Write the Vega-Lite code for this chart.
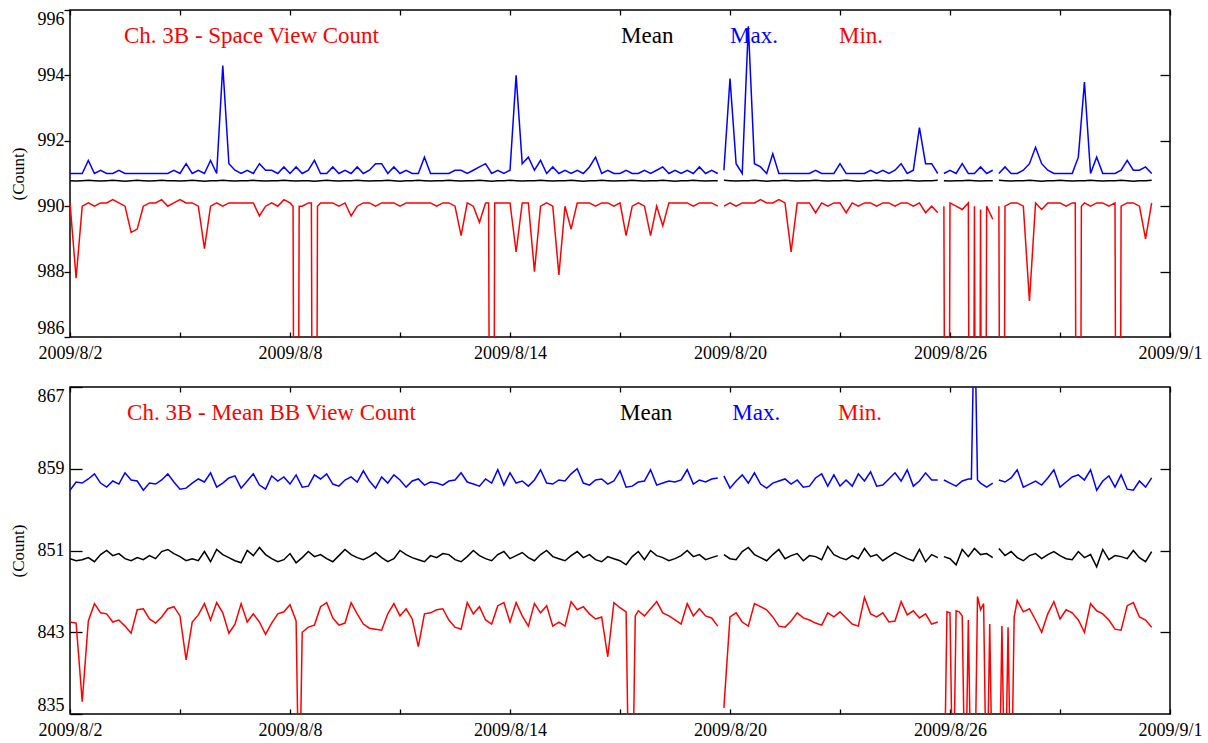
{
"$schema": "https://vega.github.io/schema/vega-lite/v6.json",
"background": "white",
"padding": {"left": 8, "top": 8, "right": 5, "bottom": 0},
"spacing": 22,
"config": {
  "view": {"stroke": "#000", "strokeWidth": 1.5},
  "axis": {"domain": false, "grid": false, "tickColor": "#000", "tickWidth": 1.3, "labelColor": "#000", "labelFont": "Liberation Serif", "labelFontSize": 18, "titleFont": "Liberation Serif", "titleFontSize": 17, "titleFontWeight": "normal", "titleColor": "#000"},
  "text": {"font": "Liberation Serif"}
},
"datasets": {
"d": [
{"t":"2009-08-02T00:00","g":1,"smax":991,"smean":990.78,"smin":990.1,"bmax":856.9,"bmean":850.2,"bmin":844},
{"t":"2009-08-02T04:00","g":1,"smax":991,"smean":990.77,"smin":987.8,"bmax":857.7,"bmean":850,"bmin":843.9},
{"t":"2009-08-02T08:00","g":1,"smax":991,"smean":990.78,"smin":990,"bmax":857.6,"bmean":850.1,"bmin":836.2},
{"t":"2009-08-02T12:00","g":1,"smax":991.4,"smean":990.79,"smin":990.1,"bmax":858,"bmean":850.3,"bmin":844.1},
{"t":"2009-08-02T16:00","g":1,"smax":991,"smean":990.78,"smin":990,"bmax":858.5,"bmean":849.9,"bmin":845.8},
{"t":"2009-08-02T20:00","g":1,"smax":991.1,"smean":990.77,"smin":990.1,"bmax":857.6,"bmean":850.6,"bmin":844.9},
{"t":"2009-08-03T00:00","g":1,"smax":991,"smean":990.78,"smin":990.1,"bmax":857.2,"bmean":851,"bmin":844.8},
{"t":"2009-08-03T04:00","g":1,"smax":991,"smean":990.79,"smin":990.2,"bmax":857.8,"bmean":850.5,"bmin":844},
{"t":"2009-08-03T08:00","g":1,"smax":991.1,"smean":990.78,"smin":990.1,"bmax":857.5,"bmean":850.7,"bmin":844.2},
{"t":"2009-08-03T12:00","g":1,"smax":991,"smean":990.76,"smin":990,"bmax":858.6,"bmean":850.2,"bmin":843.6},
{"t":"2009-08-03T16:00","g":1,"smax":991,"smean":990.78,"smin":989.2,"bmax":857.9,"bmean":850,"bmin":842.9},
{"t":"2009-08-03T20:00","g":1,"smax":991,"smean":990.79,"smin":989.3,"bmax":857.8,"bmean":850.3,"bmin":845.2},
{"t":"2009-08-04T00:00","g":1,"smax":991,"smean":990.78,"smin":990,"bmax":856.9,"bmean":850.1,"bmin":845.3},
{"t":"2009-08-04T04:00","g":1,"smax":991,"smean":990.77,"smin":990.1,"bmax":857.6,"bmean":850.5,"bmin":844.3},
{"t":"2009-08-04T08:00","g":1,"smax":991,"smean":990.78,"smin":990.1,"bmax":857.5,"bmean":850.2,"bmin":843.9},
{"t":"2009-08-04T12:00","g":1,"smax":991,"smean":990.79,"smin":990.2,"bmax":857.9,"bmean":850.9,"bmin":844.5},
{"t":"2009-08-04T16:00","g":1,"smax":991,"smean":990.78,"smin":990,"bmax":858.5,"bmean":851.1,"bmin":845.3},
{"t":"2009-08-04T20:00","g":1,"smax":991.1,"smean":990.78,"smin":990.1,"bmax":857.7,"bmean":850.7,"bmin":845.5},
{"t":"2009-08-05T00:00","g":1,"smax":991,"smean":990.77,"smin":990.2,"bmax":857,"bmean":850.4,"bmin":844.6},
{"t":"2009-08-05T04:00","g":1,"smax":991.3,"smean":990.78,"smin":990.1,"bmax":857.1,"bmean":850,"bmin":840.3},
{"t":"2009-08-05T08:00","g":1,"smax":991,"smean":990.79,"smin":990.1,"bmax":857.6,"bmean":850.2,"bmin":844},
{"t":"2009-08-05T12:00","g":1,"smax":991.1,"smean":990.78,"smin":990,"bmax":858,"bmean":850,"bmin":844.7},
{"t":"2009-08-05T16:00","g":1,"smax":991,"smean":990.76,"smin":988.7,"bmax":857.7,"bmean":850.9,"bmin":845.8},
{"t":"2009-08-05T20:00","g":1,"smax":991.4,"smean":990.78,"smin":990,"bmax":858.6,"bmean":849.9,"bmin":844.2},
{"t":"2009-08-06T00:00","g":1,"smax":991,"smean":990.78,"smin":990.1,"bmax":857.2,"bmean":851.1,"bmin":845.9},
{"t":"2009-08-06T04:00","g":1,"smax":994.3,"smean":990.79,"smin":990,"bmax":857.6,"bmean":850.6,"bmin":844.9},
{"t":"2009-08-06T08:00","g":1,"smax":991.3,"smean":990.78,"smin":990.1,"bmax":858.1,"bmean":850.3,"bmin":842.9},
{"t":"2009-08-06T12:00","g":1,"smax":991.1,"smean":990.77,"smin":990.1,"bmax":858.3,"bmean":850,"bmin":843.8},
{"t":"2009-08-06T16:00","g":1,"smax":991,"smean":990.78,"smin":990.1,"bmax":857.1,"bmean":849.8,"bmin":845.8},
{"t":"2009-08-06T20:00","g":1,"smax":991.1,"smean":990.78,"smin":990.1,"bmax":857.8,"bmean":851,"bmin":844},
{"t":"2009-08-07T00:00","g":1,"smax":991,"smean":990.79,"smin":990.1,"bmax":858.5,"bmean":850.5,"bmin":844.8},
{"t":"2009-08-07T04:00","g":1,"smax":991.3,"smean":990.78,"smin":989.7,"bmax":857.4,"bmean":851.3,"bmin":844},
{"t":"2009-08-07T08:00","g":1,"smax":991.1,"smean":990.77,"smin":990,"bmax":857,"bmean":850.6,"bmin":842.8},
{"t":"2009-08-07T12:00","g":1,"smax":991.1,"smean":990.78,"smin":990.1,"bmax":858.3,"bmean":850.2,"bmin":843.9},
{"t":"2009-08-07T16:00","g":1,"smax":991,"smean":990.78,"smin":990,"bmax":857.8,"bmean":849.9,"bmin":844.8},
{"t":"2009-08-07T20:00","g":1,"smax":991.2,"smean":990.79,"smin":990.2,"bmax":858.2,"bmean":850.1,"bmin":845},
{"t":"2009-08-08T00:00","g":1,"smax":991,"smean":990.78,"smin":990.1,"bmax":857.5,"bmean":850.7,"bmin":845.7},
{"t":"2009-08-08T04:00","g":1,"smax":991.2,"smean":990.77,"smin":960,"bmax":858.4,"bmean":849.8,"bmin":844.1},
{"t":"2009-08-08T08:00","g":1,"smax":991,"smean":990.78,"smin":990,"bmax":857.2,"bmean":850.3,"bmin":843},
{"t":"2009-08-08T12:00","g":1,"smax":991.1,"smean":990.78,"smin":990.1,"bmax":857.3,"bmean":850.9,"bmin":843.5},
{"t":"2009-08-08T16:00","g":1,"smax":991.4,"smean":990.76,"smin":960,"bmax":858.4,"bmean":850.4,"bmin":843.7},
{"t":"2009-08-08T20:00","g":1,"smax":991,"smean":990.78,"smin":990.1,"bmax":858,"bmean":850.6,"bmin":845.5},
{"t":"2009-08-09T00:00","g":1,"smax":991,"smean":990.79,"smin":990.1,"bmax":858.5,"bmean":850.2,"bmin":845.9},
{"t":"2009-08-09T04:00","g":1,"smax":991.2,"smean":990.78,"smin":990.1,"bmax":857.5,"bmean":849.9,"bmin":844.4},
{"t":"2009-08-09T08:00","g":1,"smax":991,"smean":990.77,"smin":990,"bmax":857.3,"bmean":850.5,"bmin":843.7},
{"t":"2009-08-09T12:00","g":1,"smax":991.1,"smean":990.78,"smin":990.1,"bmax":857.9,"bmean":851.1,"bmin":843.9},
{"t":"2009-08-09T16:00","g":1,"smax":991,"smean":990.78,"smin":989.7,"bmax":858.2,"bmean":850.6,"bmin":845.9},
{"t":"2009-08-09T20:00","g":1,"smax":991.2,"smean":990.79,"smin":990,"bmax":857.7,"bmean":850.3,"bmin":844.8},
{"t":"2009-08-10T00:00","g":1,"smax":991,"smean":990.78,"smin":990.1,"bmax":858.8,"bmean":850.1,"bmin":843.8},
{"t":"2009-08-10T04:00","g":1,"smax":991.1,"smean":990.77,"smin":990.1,"bmax":857.8,"bmean":850.4,"bmin":843.4},
{"t":"2009-08-10T08:00","g":1,"smax":991.3,"smean":990.78,"smin":990,"bmax":857.1,"bmean":850.8,"bmin":843.3},
{"t":"2009-08-10T12:00","g":1,"smax":991.3,"smean":990.78,"smin":990.1,"bmax":858.2,"bmean":850.3,"bmin":843.2},
{"t":"2009-08-10T16:00","g":1,"smax":991,"smean":990.79,"smin":990.1,"bmax":857.6,"bmean":849.9,"bmin":844.8},
{"t":"2009-08-10T20:00","g":1,"smax":991.2,"smean":990.78,"smin":990.1,"bmax":858.4,"bmean":850.2,"bmin":845.8},
{"t":"2009-08-11T00:00","g":1,"smax":991,"smean":990.76,"smin":990,"bmax":857.9,"bmean":851,"bmin":844.6},
{"t":"2009-08-11T04:00","g":1,"smax":991.1,"smean":990.78,"smin":990.1,"bmax":857.2,"bmean":850.6,"bmin":845.3},
{"t":"2009-08-11T08:00","g":1,"smax":991,"smean":990.78,"smin":990.1,"bmax":857.8,"bmean":850.3,"bmin":844.3},
{"t":"2009-08-11T12:00","g":1,"smax":991,"smean":990.79,"smin":990.1,"bmax":858,"bmean":850.1,"bmin":841.6},
{"t":"2009-08-11T16:00","g":1,"smax":991.5,"smean":990.78,"smin":990.1,"bmax":857.4,"bmean":849.9,"bmin":844.8},
{"t":"2009-08-11T20:00","g":1,"smax":991,"smean":990.77,"smin":990.1,"bmax":857.7,"bmean":850.5,"bmin":844.9},
{"t":"2009-08-12T00:00","g":1,"smax":991,"smean":990.78,"smin":990,"bmax":857.6,"bmean":850.3,"bmin":845.2},
{"t":"2009-08-12T04:00","g":1,"smax":991,"smean":990.78,"smin":990.1,"bmax":857.4,"bmean":850.7,"bmin":845.3},
{"t":"2009-08-12T08:00","g":1,"smax":991,"smean":990.79,"smin":990.1,"bmax":857.8,"bmean":850.6,"bmin":844.2},
{"t":"2009-08-12T12:00","g":1,"smax":991.1,"smean":990.78,"smin":990,"bmax":857.9,"bmean":850.1,"bmin":843.5},
{"t":"2009-08-12T16:00","g":1,"smax":991.1,"smean":990.77,"smin":989.1,"bmax":858.6,"bmean":849.9,"bmin":843.3},
{"t":"2009-08-12T20:00","g":1,"smax":991,"smean":990.78,"smin":990.1,"bmax":857.7,"bmean":850.4,"bmin":845.9},
{"t":"2009-08-13T00:00","g":1,"smax":991.1,"smean":990.78,"smin":990,"bmax":857.5,"bmean":851,"bmin":844.8},
{"t":"2009-08-13T04:00","g":1,"smax":991.2,"smean":990.79,"smin":989.5,"bmax":857.3,"bmean":850.5,"bmin":845.5},
{"t":"2009-08-13T08:00","g":1,"smax":991.3,"smean":990.78,"smin":990.1,"bmax":858,"bmean":850.2,"bmin":844.2},
{"t":"2009-08-13T12:00","g":1,"smax":991,"smean":990.76,"smin":960,"bmax":857.6,"bmean":850,"bmin":843.8},
{"t":"2009-08-13T16:00","g":1,"smax":991.1,"smean":990.78,"smin":990.1,"bmax":858.9,"bmean":850.6,"bmin":845.6},
{"t":"2009-08-13T20:00","g":1,"smax":991,"smean":990.78,"smin":990.1,"bmax":857.4,"bmean":850.9,"bmin":845.9},
{"t":"2009-08-14T00:00","g":1,"smax":991.1,"smean":990.79,"smin":990.1,"bmax":858.6,"bmean":850.2,"bmin":844},
{"t":"2009-08-14T04:00","g":1,"smax":994,"smean":990.78,"smin":988.6,"bmax":857.6,"bmean":850.5,"bmin":845.9},
{"t":"2009-08-14T08:00","g":1,"smax":991.3,"smean":990.77,"smin":990.1,"bmax":857.8,"bmean":850.8,"bmin":844.6},
{"t":"2009-08-14T12:00","g":1,"smax":991.5,"smean":990.78,"smin":990.1,"bmax":857.3,"bmean":850.3,"bmin":843.6},
{"t":"2009-08-14T16:00","g":1,"smax":991.1,"smean":990.78,"smin":988,"bmax":857.9,"bmean":850,"bmin":845.8},
{"t":"2009-08-14T20:00","g":1,"smax":991.4,"smean":990.79,"smin":990,"bmax":858.9,"bmean":850.6,"bmin":844.9},
{"t":"2009-08-15T00:00","g":1,"smax":991,"smean":990.78,"smin":990.1,"bmax":857.6,"bmean":851,"bmin":845.6},
{"t":"2009-08-15T04:00","g":1,"smax":991.2,"smean":990.77,"smin":990,"bmax":857.5,"bmean":850.4,"bmin":843.6},
{"t":"2009-08-15T08:00","g":1,"smax":991,"smean":990.78,"smin":987.9,"bmax":857.9,"bmean":850.2,"bmin":844},
{"t":"2009-08-15T12:00","g":1,"smax":991.1,"smean":990.78,"smin":990,"bmax":857.8,"bmean":850,"bmin":843.6},
{"t":"2009-08-15T16:00","g":1,"smax":991,"smean":990.79,"smin":989.3,"bmax":858.5,"bmean":850.5,"bmin":846},
{"t":"2009-08-15T20:00","g":1,"smax":991.1,"smean":990.78,"smin":990.1,"bmax":859,"bmean":850.9,"bmin":845.2},
{"t":"2009-08-16T00:00","g":1,"smax":991,"smean":990.76,"smin":990.1,"bmax":857.6,"bmean":850.3,"bmin":845.5},
{"t":"2009-08-16T04:00","g":1,"smax":991.2,"smean":990.78,"smin":990.1,"bmax":857.4,"bmean":850.6,"bmin":844.8},
{"t":"2009-08-16T08:00","g":1,"smax":991.5,"smean":990.78,"smin":990,"bmax":857.9,"bmean":850.1,"bmin":844.3},
{"t":"2009-08-16T12:00","g":1,"smax":991,"smean":990.79,"smin":990.1,"bmax":858,"bmean":849.9,"bmin":844.5},
{"t":"2009-08-16T16:00","g":1,"smax":991.1,"smean":990.78,"smin":990.1,"bmax":857.5,"bmean":850.4,"bmin":840.6},
{"t":"2009-08-16T20:00","g":1,"smax":991,"smean":990.77,"smin":990,"bmax":857.8,"bmean":850.2,"bmin":845.9},
{"t":"2009-08-17T00:00","g":1,"smax":991,"smean":990.78,"smin":990.1,"bmax":858.8,"bmean":850,"bmin":845.4},
{"t":"2009-08-17T04:00","g":1,"smax":991.1,"smean":990.78,"smin":989.1,"bmax":857.2,"bmean":849.6,"bmin":845},
{"t":"2009-08-17T08:00","g":1,"smax":991,"smean":990.79,"smin":990,"bmax":857.3,"bmean":850.4,"bmin":825},
{"t":"2009-08-17T12:00","g":1,"smax":991,"smean":990.78,"smin":990.1,"bmax":857.7,"bmean":850.9,"bmin":845.1},
{"t":"2009-08-17T16:00","g":1,"smax":991.1,"smean":990.77,"smin":990,"bmax":857.8,"bmean":850.1,"bmin":844.6},
{"t":"2009-08-17T20:00","g":1,"smax":991,"smean":990.78,"smin":989.1,"bmax":858.9,"bmean":851,"bmin":845.3},
{"t":"2009-08-18T00:00","g":1,"smax":991.1,"smean":990.78,"smin":990,"bmax":857.4,"bmean":850.5,"bmin":846},
{"t":"2009-08-18T04:00","g":1,"smax":991.2,"smean":990.79,"smin":989.4,"bmax":857.6,"bmean":850.3,"bmin":844.9},
{"t":"2009-08-18T08:00","g":1,"smax":991,"smean":990.78,"smin":990.1,"bmax":857.8,"bmean":850,"bmin":844.6},
{"t":"2009-08-18T12:00","g":1,"smax":991.1,"smean":990.76,"smin":990.1,"bmax":857.7,"bmean":850.2,"bmin":844.2},
{"t":"2009-08-18T16:00","g":1,"smax":991,"smean":990.78,"smin":990.1,"bmax":857.9,"bmean":850.5,"bmin":843.8},
{"t":"2009-08-18T20:00","g":1,"smax":991.1,"smean":990.78,"smin":990.1,"bmax":858.9,"bmean":851,"bmin":845.8},
{"t":"2009-08-19T00:00","g":1,"smax":991,"smean":990.79,"smin":990,"bmax":857.5,"bmean":850.4,"bmin":844.6},
{"t":"2009-08-19T04:00","g":1,"smax":991.2,"smean":990.78,"smin":990.1,"bmax":857.9,"bmean":850.6,"bmin":845.3},
{"t":"2009-08-19T08:00","g":1,"smax":991,"smean":990.77,"smin":990.1,"bmax":857.7,"bmean":850.1,"bmin":844.6},
{"t":"2009-08-19T12:00","g":1,"smax":991.1,"smean":990.78,"smin":990.1,"bmax":858,"bmean":850.3,"bmin":844.4},
{"t":"2009-08-19T16:00","g":1,"smax":991,"smean":990.78,"smin":990,"bmax":858.1,"bmean":850.5,"bmin":843.6},
{"t":"2009-08-19T20:00","g":2,"smax":991.1,"smean":990.79,"smin":990,"bmax":858.3,"bmean":850.6,"bmin":835.6},
{"t":"2009-08-20T00:00","g":2,"smax":993.9,"smean":990.78,"smin":990.1,"bmax":857.1,"bmean":850.2,"bmin":844.5},
{"t":"2009-08-20T04:00","g":2,"smax":991.3,"smean":990.77,"smin":990,"bmax":857.8,"bmean":850.1,"bmin":844.9},
{"t":"2009-08-20T08:00","g":2,"smax":991,"smean":990.78,"smin":990.1,"bmax":858.4,"bmean":850.9,"bmin":844},
{"t":"2009-08-20T12:00","g":2,"smax":995.5,"smean":990.78,"smin":990.1,"bmax":857.6,"bmean":851.3,"bmin":843.6},
{"t":"2009-08-20T16:00","g":2,"smax":991.3,"smean":990.79,"smin":990.1,"bmax":858.6,"bmean":850.6,"bmin":845.8},
{"t":"2009-08-20T20:00","g":2,"smax":991.2,"smean":990.78,"smin":990.2,"bmax":857.5,"bmean":850.3,"bmin":845.5},
{"t":"2009-08-21T00:00","g":2,"smax":991,"smean":990.76,"smin":990.1,"bmax":857.1,"bmean":850,"bmin":845.2},
{"t":"2009-08-21T04:00","g":2,"smax":991.6,"smean":990.78,"smin":990.1,"bmax":857.6,"bmean":850.6,"bmin":844.5},
{"t":"2009-08-21T08:00","g":2,"smax":991,"smean":990.78,"smin":990.2,"bmax":857.8,"bmean":851.1,"bmin":843.6},
{"t":"2009-08-21T12:00","g":2,"smax":991,"smean":990.79,"smin":990.1,"bmax":858,"bmean":850.2,"bmin":843.5},
{"t":"2009-08-21T16:00","g":2,"smax":991,"smean":990.78,"smin":988.6,"bmax":857.5,"bmean":850.5,"bmin":844.1},
{"t":"2009-08-21T20:00","g":2,"smax":991,"smean":990.77,"smin":990.1,"bmax":857.9,"bmean":850.7,"bmin":844.9},
{"t":"2009-08-22T00:00","g":2,"smax":991,"smean":990.78,"smin":990.1,"bmax":857.2,"bmean":850,"bmin":844.4},
{"t":"2009-08-22T04:00","g":2,"smax":991,"smean":990.78,"smin":990.1,"bmax":857.3,"bmean":850.5,"bmin":844.2},
{"t":"2009-08-22T08:00","g":2,"smax":991.1,"smean":990.79,"smin":989.8,"bmax":858.1,"bmean":850.4,"bmin":843.9},
{"t":"2009-08-22T12:00","g":2,"smax":991,"smean":990.78,"smin":990.1,"bmax":858.5,"bmean":850.1,"bmin":843.7},
{"t":"2009-08-22T16:00","g":2,"smax":991,"smean":990.77,"smin":990,"bmax":857.3,"bmean":851.4,"bmin":844.9},
{"t":"2009-08-22T20:00","g":2,"smax":991,"smean":990.78,"smin":990.1,"bmax":858.4,"bmean":850.6,"bmin":844.5},
{"t":"2009-08-23T00:00","g":2,"smax":991.3,"smean":990.78,"smin":990.1,"bmax":857.3,"bmean":850.3,"bmin":845},
{"t":"2009-08-23T04:00","g":2,"smax":991,"smean":990.79,"smin":989.8,"bmax":857.9,"bmean":850.1,"bmin":844.4},
{"t":"2009-08-23T08:00","g":2,"smax":991,"smean":990.78,"smin":990.1,"bmax":857.3,"bmean":850.5,"bmin":843.8},
{"t":"2009-08-23T12:00","g":2,"smax":991,"smean":990.76,"smin":990,"bmax":858.5,"bmean":850.2,"bmin":843.6},
{"t":"2009-08-23T16:00","g":2,"smax":991,"smean":990.78,"smin":990.1,"bmax":857.8,"bmean":851.2,"bmin":846.4},
{"t":"2009-08-23T20:00","g":2,"smax":991.1,"smean":990.78,"smin":990.1,"bmax":858.7,"bmean":850.4,"bmin":844.8},
{"t":"2009-08-24T00:00","g":2,"smax":991,"smean":990.79,"smin":990,"bmax":857.3,"bmean":850.6,"bmin":844.5},
{"t":"2009-08-24T04:00","g":2,"smax":991.1,"smean":990.78,"smin":990.1,"bmax":857.4,"bmean":850,"bmin":844.9},
{"t":"2009-08-24T08:00","g":2,"smax":991,"smean":990.77,"smin":990.1,"bmax":858,"bmean":850.4,"bmin":844},
{"t":"2009-08-24T12:00","g":2,"smax":991.1,"smean":990.78,"smin":990,"bmax":858.6,"bmean":850.8,"bmin":844.1},
{"t":"2009-08-24T16:00","g":2,"smax":991.3,"smean":990.78,"smin":990.1,"bmax":857.8,"bmean":850.5,"bmin":846},
{"t":"2009-08-24T20:00","g":2,"smax":991,"smean":990.79,"smin":990.1,"bmax":858.9,"bmean":850.2,"bmin":844.7},
{"t":"2009-08-25T00:00","g":2,"smax":991.1,"smean":990.78,"smin":990,"bmax":857.3,"bmean":850,"bmin":845.1},
{"t":"2009-08-25T04:00","g":2,"smax":992.4,"smean":990.77,"smin":990.1,"bmax":857.8,"bmean":851.1,"bmin":844.4},
{"t":"2009-08-25T08:00","g":2,"smax":991.3,"smean":990.78,"smin":989.8,"bmax":858.6,"bmean":849.9,"bmin":844.8},
{"t":"2009-08-25T12:00","g":2,"smax":991.3,"smean":990.78,"smin":990,"bmax":857.9,"bmean":850.6,"bmin":843.8},
{"t":"2009-08-25T16:00","g":2,"smax":991,"smean":990.79,"smin":989.8,"bmax":857.9,"bmean":850.3,"bmin":844},
{"t":"2009-08-25T20:00","g":3,"smax":991,"smean":990.78,"smin":990,"bmax":857.9,"bmean":850.4,"bmin":825},
{"t":"2009-08-26T00:00","g":3,"smax":991.1,"smean":990.77,"smin":990.1,"bmax":857.6,"bmean":850.2,"bmin":844.9},
{"t":"2009-08-26T04:00","g":3,"smax":991,"smean":990.78,"smin":990,"bmax":857.3,"bmean":849.6,"bmin":845.1},
{"t":"2009-08-26T08:00","g":3,"smax":991.3,"smean":990.78,"smin":989.9,"bmax":857.8,"bmean":851.1,"bmin":844.6},
{"t":"2009-08-26T12:00","g":3,"smax":991,"smean":990.79,"smin":990.1,"bmax":858,"bmean":850.4,"bmin":844.2},
{"t":"2009-08-26T16:00","g":3,"smax":991,"smean":990.78,"smin":990,"bmax":875,"bmean":851.2,"bmin":825},
{"t":"2009-08-26T20:00","g":3,"smax":991.2,"smean":990.77,"smin":989.9,"bmax":857.6,"bmean":850.6,"bmin":845.2},
{"t":"2009-08-27T00:00","g":3,"smax":991,"smean":990.78,"smin":990,"bmax":857.2,"bmean":850.7,"bmin":825},
{"t":"2009-08-27T04:00","g":3,"smax":991.1,"smean":990.78,"smin":989.6,"bmax":857.6,"bmean":850.3,"bmin":825},
{"t":"2009-08-27T08:00","g":4,"smax":991,"smean":990.79,"smin":990,"bmax":857.9,"bmean":851.2,"bmin":825},
{"t":"2009-08-27T12:00","g":4,"smax":991.2,"smean":990.78,"smin":990,"bmax":857.7,"bmean":850.5,"bmin":825},
{"t":"2009-08-27T16:00","g":4,"smax":991,"smean":990.77,"smin":990.1,"bmax":858.1,"bmean":850.9,"bmin":825},
{"t":"2009-08-27T20:00","g":4,"smax":991,"smean":990.78,"smin":990.1,"bmax":858.9,"bmean":850.3,"bmin":846.1},
{"t":"2009-08-28T00:00","g":4,"smax":991.1,"smean":990.78,"smin":990,"bmax":857.2,"bmean":850,"bmin":845},
{"t":"2009-08-28T04:00","g":4,"smax":991.3,"smean":990.79,"smin":987.1,"bmax":857.5,"bmean":850.5,"bmin":845.3},
{"t":"2009-08-28T08:00","g":4,"smax":991.8,"smean":990.78,"smin":990.1,"bmax":857.8,"bmean":850.7,"bmin":844.2},
{"t":"2009-08-28T12:00","g":4,"smax":991.3,"smean":990.76,"smin":989.9,"bmax":857.4,"bmean":850.2,"bmin":843},
{"t":"2009-08-28T16:00","g":4,"smax":991.1,"smean":990.78,"smin":990.1,"bmax":858.1,"bmean":850.6,"bmin":844.8},
{"t":"2009-08-28T20:00","g":4,"smax":991,"smean":990.78,"smin":990.1,"bmax":858.9,"bmean":850.9,"bmin":846},
{"t":"2009-08-29T00:00","g":4,"smax":991,"smean":990.79,"smin":990.1,"bmax":857.2,"bmean":850.5,"bmin":844.3},
{"t":"2009-08-29T04:00","g":4,"smax":991,"smean":990.78,"smin":990,"bmax":857.7,"bmean":850.2,"bmin":845.2},
{"t":"2009-08-29T08:00","g":4,"smax":991,"smean":990.77,"smin":990.1,"bmax":858.2,"bmean":850.1,"bmin":844.9},
{"t":"2009-08-29T12:00","g":4,"smax":991.5,"smean":990.78,"smin":960,"bmax":858.4,"bmean":850.9,"bmin":844.2},
{"t":"2009-08-29T16:00","g":4,"smax":993.8,"smean":990.78,"smin":990.1,"bmax":857.9,"bmean":850.3,"bmin":843},
{"t":"2009-08-29T20:00","g":4,"smax":991,"smean":990.79,"smin":990,"bmax":858.9,"bmean":850.6,"bmin":845.8},
{"t":"2009-08-30T00:00","g":4,"smax":991.5,"smean":990.78,"smin":990.1,"bmax":856.9,"bmean":849.4,"bmin":845.1},
{"t":"2009-08-30T04:00","g":4,"smax":991,"smean":990.77,"smin":990.1,"bmax":857.8,"bmean":851.1,"bmin":844.8},
{"t":"2009-08-30T08:00","g":4,"smax":991,"smean":990.78,"smin":990,"bmax":858.3,"bmean":850.1,"bmin":844.2},
{"t":"2009-08-30T12:00","g":4,"smax":991,"smean":990.78,"smin":990.1,"bmax":857.2,"bmean":850.5,"bmin":843.3},
{"t":"2009-08-30T16:00","g":4,"smax":991.1,"smean":990.79,"smin":990,"bmax":858.4,"bmean":850.4,"bmin":843.2},
{"t":"2009-08-30T20:00","g":4,"smax":991.4,"smean":990.78,"smin":990.1,"bmax":857,"bmean":850.2,"bmin":845.6},
{"t":"2009-08-31T00:00","g":4,"smax":991.1,"smean":990.76,"smin":990.1,"bmax":856.9,"bmean":851,"bmin":845.9},
{"t":"2009-08-31T04:00","g":4,"smax":991.1,"smean":990.78,"smin":990,"bmax":857.8,"bmean":850.3,"bmin":844.5},
{"t":"2009-08-31T08:00","g":4,"smax":991.2,"smean":990.78,"smin":989,"bmax":857.2,"bmean":849.9,"bmin":844.2},
{"t":"2009-08-31T12:00","g":4,"smax":991,"smean":990.79,"smin":990.1,"bmax":858.1,"bmean":850.9,"bmin":843.5},
{"t":"2009-08-08T02:00","g":1,"smin":990},
{"t":"2009-08-08T06:00","g":1,"smin":990,"bmin":825},
{"t":"2009-08-08T14:00","g":1,"smin":990.1},
{"t":"2009-08-08T18:00","g":1,"smin":990},
{"t":"2009-08-13T10:00","g":1,"smin":990.1},
{"t":"2009-08-13T14:00","g":1,"smin":990.1},
{"t":"2009-08-17T06:00","g":1,"bmin":825},
{"t":"2009-08-17T10:00","g":1,"bmin":844.6},
{"t":"2009-08-25T22:00","g":3,"smin":960,"bmin":845},
{"t":"2009-08-26T02:00","g":3,"bmin":825},
{"t":"2009-08-26T06:00","g":3,"bmin":845},
{"t":"2009-08-26T10:00","g":3,"bmin":825},
{"t":"2009-08-26T14:00","g":3,"smin":960,"bmin":825,"bmax":858},
{"t":"2009-08-26T18:00","g":3,"smin":960,"bmin":846.5,"bmax":857.9},
{"t":"2009-08-26T22:00","g":3,"smin":960,"bmin":845.8},
{"t":"2009-08-27T02:00","g":3,"bmin":843.8},
{"t":"2009-08-27T10:00","g":4,"smin":960,"bmin":843.6},
{"t":"2009-08-27T14:00","g":4,"bmin":843.5},
{"t":"2009-08-27T18:00","g":4,"bmin":844.5},
{"t":"2009-08-29T10:00","g":4,"smin":990.1},
{"t":"2009-08-29T14:00","g":4,"smin":990},
{"t":"2009-08-30T14:00","g":4,"smin":960}
]
},
"vconcat": [
{
  "width": 1100,
  "height": 327,
  "layer": [
    {
      "data": {"name": "d", "format": {"parse": {"t": "date"}}},
      "transform": [{"fold": ["smax", "smean", "smin"], "as": ["s", "v"]}],
      "mark": {"type": "line", "clip": true, "strokeWidth": 1.5, "invalid": "filter"},
      "encoding": {
        "x": {"field": "t", "type": "temporal",
          "scale": {"domain": [{"year": 2009, "month": 8, "date": 2}, {"year": 2009, "month": 9, "date": 1}], "nice": false},
          "axis": {"orient": "bottom", "title": null, "values": [{"year":2009,"month":8,"date":2},{"year":2009,"month":8,"date":5},{"year":2009,"month":8,"date":8},{"year":2009,"month":8,"date":11},{"year":2009,"month":8,"date":14},{"year":2009,"month":8,"date":17},{"year":2009,"month":8,"date":20},{"year":2009,"month":8,"date":23},{"year":2009,"month":8,"date":26},{"year":2009,"month":8,"date":29},{"year":2009,"month":9,"date":1}],
            "format": "%Y/%-m/%-d", "labelExpr": "date(datum.value) % 6 == 5 ? '' : datum.label", "tickSize": -5, "labelPadding": 12, "labelFlush": false, "labelOverlap": false, "labelFont": "Liberation Serif", "labelFontSize": 18}},
        "y": {"field": "v", "type": "quantitative",
          "scale": {"domain": [986, 996], "nice": false, "zero": false},
          "axis": {"orient": "left", "title": "(Count)", "values": [986, 988, 990, 992, 994, 996], "tickSize": 6, "labelPadding": 0, "labelFlush": true, "titlePadding": 8, "minExtent": 35, "maxExtent": 35, "labelFont": "Liberation Serif", "labelFontSize": 18, "titleFont": "Liberation Serif", "titleFontSize": 17}},
        "color": {"field": "s", "type": "nominal", "scale": {"domain": ["smax", "smean", "smin"], "range": ["#0000ff", "#000000", "#ff0000"]}, "legend": null},
        "detail": {"field": "g", "type": "nominal"}
      }
    },
    {
      "data": {"values": [
        {"t": "2009-08-03T11:20", "v": 995.2, "txt": "Ch. 3B - Space View Count", "s": "smin"},
        {"t": "2009-08-17T00:40", "v": 995.2, "txt": "Mean", "s": "smean"},
        {"t": "2009-08-20T00:00", "v": 995.2, "txt": "Max.", "s": "smax"},
        {"t": "2009-08-22T23:20", "v": 995.2, "txt": "Min.", "s": "smin"}
      ], "format": {"parse": {"t": "date"}}},
      "mark": {"type": "text", "align": "left", "baseline": "middle", "font": "Liberation Serif", "fontSize": 23},
      "encoding": {
        "x": {"field": "t", "type": "temporal",
          "scale": {"domain": [{"year": 2009, "month": 8, "date": 2}, {"year": 2009, "month": 9, "date": 1}], "nice": false},
          "axis": {"orient": "top", "title": null, "labels": false, "tickSize": -5, "values": [{"year":2009,"month":8,"date":2},{"year":2009,"month":8,"date":5},{"year":2009,"month":8,"date":8},{"year":2009,"month":8,"date":11},{"year":2009,"month":8,"date":14},{"year":2009,"month":8,"date":17},{"year":2009,"month":8,"date":20},{"year":2009,"month":8,"date":23},{"year":2009,"month":8,"date":26},{"year":2009,"month":8,"date":29},{"year":2009,"month":9,"date":1}]}},
        "y": {"field": "v", "type": "quantitative",
          "scale": {"domain": [986, 996], "nice": false, "zero": false},
          "axis": {"orient": "right", "title": null, "labels": false, "tickSize": -10, "values": [988, 990, 992, 994]}},
        "text": {"field": "txt"},
        "color": {"field": "s", "type": "nominal", "legend": null}
      }
    }
  ],
  "resolve": {"axis": {"x": "independent", "y": "independent"}}
},
{
  "width": 1100,
  "height": 327,
  "layer": [
    {
      "data": {"name": "d", "format": {"parse": {"t": "date"}}},
      "transform": [{"fold": ["bmax", "bmean", "bmin"], "as": ["s", "v"]}],
      "mark": {"type": "line", "clip": true, "strokeWidth": 1.5, "invalid": "filter"},
      "encoding": {
        "x": {"field": "t", "type": "temporal",
          "scale": {"domain": [{"year": 2009, "month": 8, "date": 2}, {"year": 2009, "month": 9, "date": 1}], "nice": false},
          "axis": {"orient": "bottom", "title": null, "values": [{"year":2009,"month":8,"date":2},{"year":2009,"month":8,"date":5},{"year":2009,"month":8,"date":8},{"year":2009,"month":8,"date":11},{"year":2009,"month":8,"date":14},{"year":2009,"month":8,"date":17},{"year":2009,"month":8,"date":20},{"year":2009,"month":8,"date":23},{"year":2009,"month":8,"date":26},{"year":2009,"month":8,"date":29},{"year":2009,"month":9,"date":1}],
            "format": "%Y/%-m/%-d", "labelExpr": "date(datum.value) % 6 == 5 ? '' : datum.label", "tickSize": -5, "labelPadding": 12, "labelFlush": false, "labelOverlap": false, "labelFont": "Liberation Serif", "labelFontSize": 18}},
        "y": {"field": "v", "type": "quantitative",
          "scale": {"domain": [835, 867], "nice": false, "zero": false},
          "axis": {"orient": "left", "title": "(Count)", "values": [835, 843, 851, 859, 867], "tickSize": -12, "labelPadding": 18, "labelFlush": true, "titlePadding": 8, "minExtent": 35, "maxExtent": 35, "labelFont": "Liberation Serif", "labelFontSize": 18, "titleFont": "Liberation Serif", "titleFontSize": 17}},
        "color": {"field": "s", "type": "nominal", "scale": {"domain": ["bmax", "bmean", "bmin"], "range": ["#0000ff", "#000000", "#ff0000"]}, "legend": null},
        "detail": {"field": "g", "type": "nominal"}
      }
    },
    {
      "data": {"values": [
        {"t": "2009-08-03T13:20", "v": 864.5, "txt": "Ch. 3B - Mean BB View Count", "s": "bmin"},
        {"t": "2009-08-17T00:00", "v": 864.5, "txt": "Mean", "s": "bmean"},
        {"t": "2009-08-20T01:30", "v": 864.5, "txt": "Max.", "s": "bmax"},
        {"t": "2009-08-22T22:40", "v": 864.5, "txt": "Min.", "s": "bmin"}
      ], "format": {"parse": {"t": "date"}}},
      "mark": {"type": "text", "align": "left", "baseline": "middle", "font": "Liberation Serif", "fontSize": 23},
      "encoding": {
        "x": {"field": "t", "type": "temporal",
          "scale": {"domain": [{"year": 2009, "month": 8, "date": 2}, {"year": 2009, "month": 9, "date": 1}], "nice": false},
          "axis": {"orient": "top", "title": null, "labels": false, "tickSize": -5, "values": [{"year":2009,"month":8,"date":2},{"year":2009,"month":8,"date":5},{"year":2009,"month":8,"date":8},{"year":2009,"month":8,"date":11},{"year":2009,"month":8,"date":14},{"year":2009,"month":8,"date":17},{"year":2009,"month":8,"date":20},{"year":2009,"month":8,"date":23},{"year":2009,"month":8,"date":26},{"year":2009,"month":8,"date":29},{"year":2009,"month":9,"date":1}]}},
        "y": {"field": "v", "type": "quantitative",
          "scale": {"domain": [835, 867], "nice": false, "zero": false},
          "axis": {"orient": "right", "title": null, "labels": false, "tickSize": -10, "values": [843, 851, 859]}},
        "text": {"field": "txt"},
        "color": {"field": "s", "type": "nominal", "legend": null}
      }
    }
  ],
  "resolve": {"axis": {"x": "independent", "y": "independent"}}
}
]
}
